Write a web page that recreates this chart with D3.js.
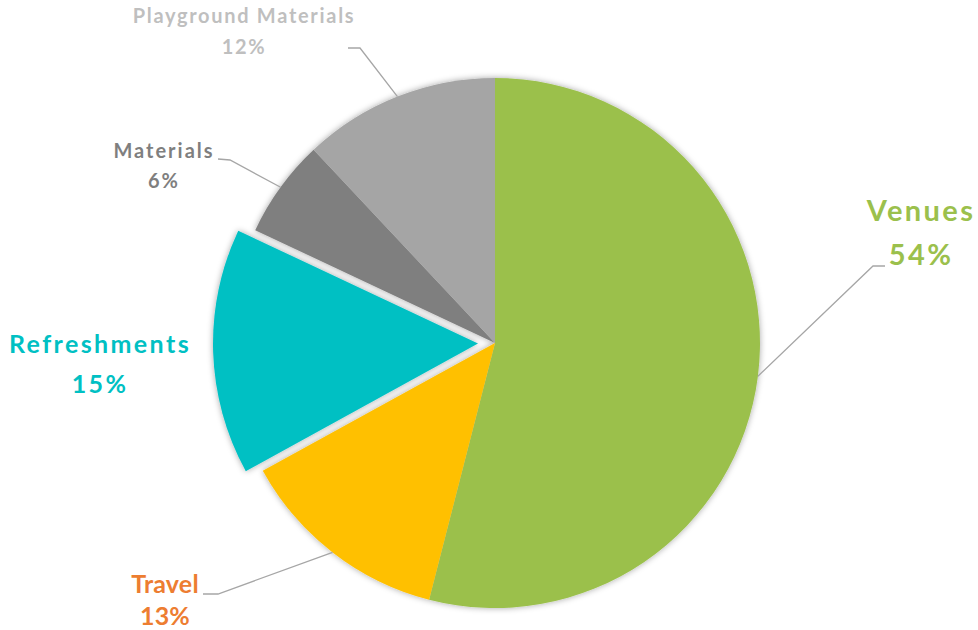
<!DOCTYPE html>
<html>
<head>
<meta charset="utf-8">
<title>Budget pie</title>
<script src="https://d3js.org/d3.v7.min.js"></script>
<style>
  body { margin: 0; background: #fff; }
  text { font-family: Lato, "Open Sans", sans-serif; font-weight: bold; }
  .leader { fill: none; stroke: #a6a6a6; stroke-width: 1.3px; }
</style>
</head>
<body>
<div id="chart"></div>
<script>
// data
var categories = ["Venues", "Travel", "Refreshments", "Materials", "Playground Materials"];
var values = [54, 13, 15, 6, 12];
var sliceColors = ["#9bc04c", "#ffc000", "#00c0c3", "#7f7f7f", "#a5a5a5"];
var labelColors = ["#9bc04c", "#ed7d31", "#00c0c3", "#7f7f7f", "#bfbfbf"];
var exploded = [false, false, true, false, false];

// label layout: elbow point, label centre x, first line baseline, font size, line gap, spacing
var labelLayout = [
  { elbow: [873, 266], end: [885, 266], x: 921, y: 221, size: 29, gap: 44, ls: 2.4 },
  { elbow: [218, 594], end: [203, 594], x: 165, y: 593, size: 25, gap: 32, ls: 0.2 },
  { elbow: null, end: null, x: 100, y: 353, size: 25, gap: 40, ls: 2.4 },
  { elbow: [230, 160], end: [218, 159], x: 164, y: 158, size: 20, gap: 30, ls: 2 },
  { elbow: [360, 48], end: [348, 48], x: 244, y: 23, size: 20, gap: 31, ls: 1.7 }
];

var width = 978, height = 630;
var cx = 495, cy = 343, r = 265, explode = 17;

var svg = d3.select("#chart").append("svg")
    .attr("width", width)
    .attr("height", height);

var defs = svg.append("defs");
var f = defs.append("filter").attr("id", "shadow")
    .attr("x", "-20%").attr("y", "-20%").attr("width", "140%").attr("height", "140%");
f.append("feDropShadow")
    .attr("dx", 0).attr("dy", 0)
    .attr("stdDeviation", 3)
    .attr("flood-color", "#000")
    .attr("flood-opacity", 0.35);

var data = categories.map(function(c, i) {
  return { name: c, value: values[i], idx: i };
});

var pie = d3.pie().sort(null).value(function(d) { return d.value; });
var arcs = pie(data);

var arc = d3.arc().innerRadius(0).outerRadius(r);
var edge = d3.arc().innerRadius(r).outerRadius(r);

var g = svg.append("g")
    .attr("transform", "translate(" + cx + "," + cy + ")")
    .attr("filter", "url(#shadow)");

g.selectAll("path.slice")
  .data(arcs)
  .enter().append("path")
    .attr("class", "slice")
    .attr("d", arc)
    .attr("fill", function(d) { return sliceColors[d.data.idx]; })
    .attr("transform", function(d) {
      if (!exploded[d.data.idx]) return null;
      var a = (d.startAngle + d.endAngle) / 2;
      return "translate(" + (Math.sin(a) * explode) + "," + (-Math.cos(a) * explode) + ")";
    });

// leader lines
var lg = svg.append("g");
arcs.forEach(function(d) {
  var L = labelLayout[d.data.idx];
  if (!L.elbow) return;
  var p = edge.centroid(d);
  var pts = [[cx + p[0], cy + p[1]], L.elbow, L.end];
  lg.append("path")
    .attr("class", "leader")
    .attr("d", d3.line()(pts));
});

// labels
var labels = svg.append("g");
arcs.forEach(function(d) {
  var i = d.data.idx, L = labelLayout[i];
  var pct = Math.round(d.value / d3.sum(values) * 100) + "%";
  var t = labels.append("text")
    .attr("text-anchor", "middle")
    .attr("fill", labelColors[i])
    .style("font-size", L.size + "px")
    .style("letter-spacing", L.ls + "px");
  t.append("tspan").attr("x", L.x).attr("y", L.y).text(d.data.name);
  t.append("tspan").attr("x", L.x).attr("y", L.y + L.gap).text(pct);
});
</script>
</body>
</html>
